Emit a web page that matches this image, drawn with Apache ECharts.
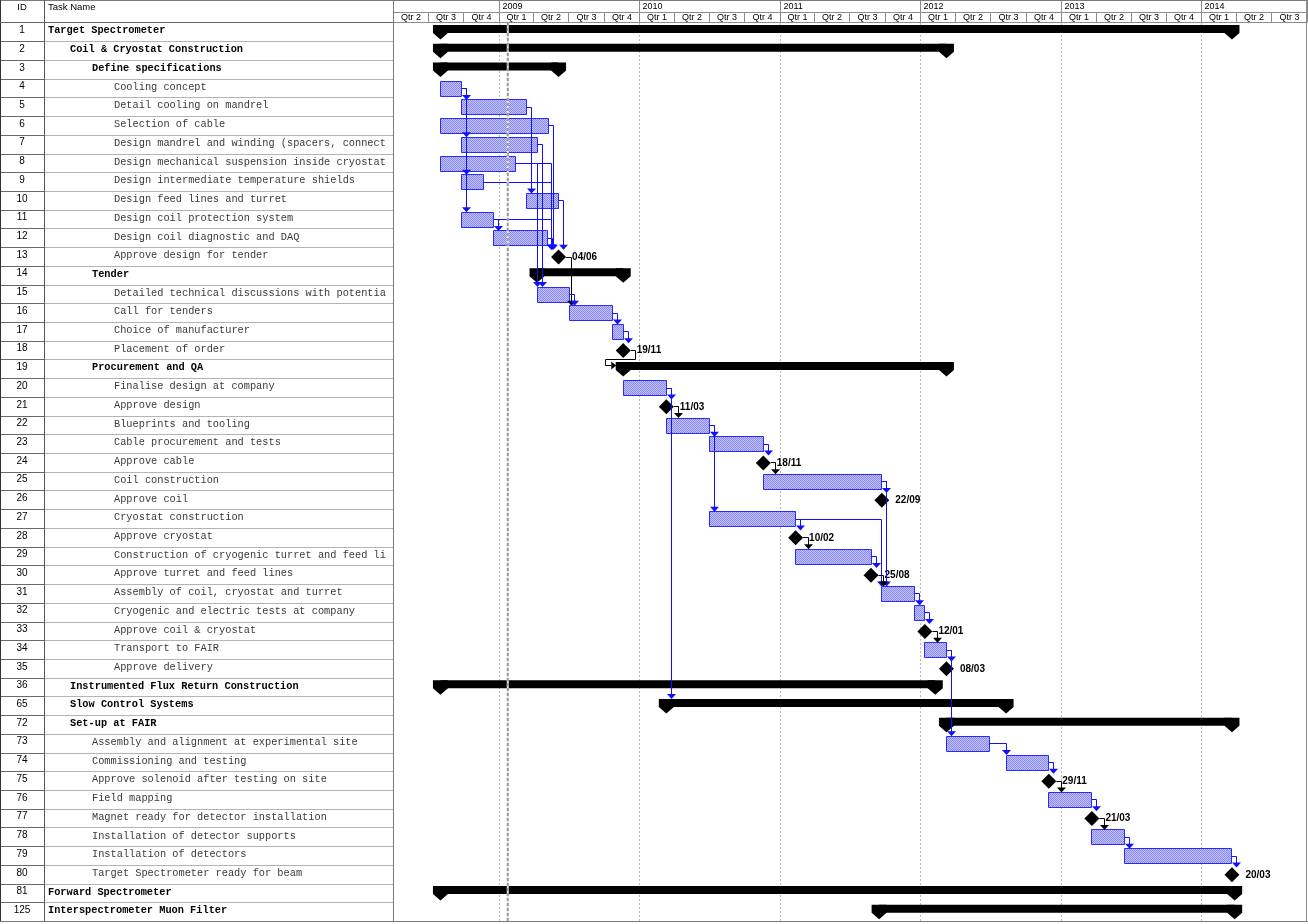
<!DOCTYPE html>
<html>
<head>
<meta charset="utf-8">
<title>Target Spectrometer schedule</title>
<script src="https://cdn.jsdelivr.net/npm/echarts@6/dist/echarts.min.js"></script>
<style>
  html, body { margin: 0; padding: 0; background: #fff; }
  #chart { width: 1308px; height: 924px; }
</style>
</head>
<body>
<div id="chart"></div>
<script>
// ---- data ----
var taskIds = ['1', '2', '3', '4', '5', '6', '7', '8', '9', '10', '11', '12', '13', '14', '15', '16',
    '17', '18', '19', '20', '21', '22', '23', '24', '25', '26', '27', '28', '29', '30', '31', '32',
    '33', '34', '35', '36', '65', '72', '73', '74', '75', '76', '77', '78', '79', '80', '81', '125'];

var taskNames = [
    'Target Spectrometer',
    'Coil & Cryostat Construction',
    'Define specifications',
    'Cooling concept',
    'Detail cooling on mandrel',
    'Selection of cable',
    'Design mandrel and winding (spacers, connectors)',
    'Design mechanical suspension inside cryostat',
    'Design intermediate temperature shields',
    'Design feed lines and turret',
    'Design coil protection system',
    'Design coil diagnostic and DAQ',
    'Approve design for tender',
    'Tender',
    'Detailed technical discussions with potential suppliers',
    'Call for tenders',
    'Choice of manufacturer',
    'Placement of order',
    'Procurement and QA',
    'Finalise design at company',
    'Approve design',
    'Blueprints and tooling',
    'Cable procurement and tests',
    'Approve cable',
    'Coil construction',
    'Approve coil',
    'Cryostat construction',
    'Approve cryostat',
    'Construction of cryogenic turret and feed lines',
    'Approve turret and feed lines',
    'Assembly of coil, cryostat and turret',
    'Cryogenic and electric tests at company',
    'Approve coil & cryostat',
    'Transport to FAIR',
    'Approve delivery',
    'Instrumented Flux Return Construction',
    'Slow Control Systems',
    'Set-up at FAIR',
    'Assembly and alignment at experimental site',
    'Commissioning and testing',
    'Approve solenoid after testing on site',
    'Field mapping',
    'Magnet ready for detector installation',
    'Installation of detector supports',
    'Installation of detectors',
    'Target Spectrometer ready for beam',
    'Forward Spectrometer',
    'Interspectrometer Muon Filter'
];

var taskLevels = [0, 1, 2, 3, 3, 3, 3, 3, 3, 3, 3, 3, 3, 2, 3, 3,
    3, 3, 2, 3, 3, 3, 3, 3, 3, 3, 3, 3, 3, 3, 3, 3,
    3, 3, 3, 1, 1, 1, 2, 2, 2, 2, 2, 2, 2, 2, 0, 0];

// sum = summary bar, task = normal bar, ms = milestone
var taskKinds = ['sum', 'sum', 'sum', 'task', 'task', 'task', 'task', 'task', 'task', 'task', 'task', 'task', 'ms', 'sum', 'task', 'task',
    'task', 'ms', 'sum', 'task', 'ms', 'task', 'task', 'ms', 'task', 'ms', 'task', 'ms', 'task', 'ms', 'task', 'task',
    'ms', 'task', 'ms', 'sum', 'sum', 'sum', 'task', 'task', 'ms', 'task', 'ms', 'task', 'task', 'ms', 'sum', 'sum'];

var taskStarts = ['2008-08-01', '2008-08-01', '2008-08-01', '2008-08-01', '2008-09-26', '2008-08-01', '2008-09-26', '2008-08-01',
    '2008-09-26', '2009-03-13', '2008-09-26', '2008-12-18', '2009-06-04', '2009-04-09', '2009-04-09', '2009-07-02',
    '2009-10-21', '2009-11-19', '2009-11-19', '2009-11-19', '2010-03-11', '2010-03-11', '2010-06-30', '2010-11-18',
    '2010-11-18', '2011-09-22', '2010-06-30', '2011-02-10', '2011-02-10', '2011-08-25', '2011-09-22', '2011-12-15',
    '2012-01-12', '2012-01-12', '2012-03-08', '2008-08-01', '2010-03-11', '2012-03-08', '2012-03-08', '2012-08-10',
    '2012-11-29', '2012-11-29', '2013-03-21', '2013-03-21', '2013-06-13', '2014-03-20', '2008-08-01', '2011-09-15'];

var taskEnds = ['2014-03-20', '2012-03-08', '2009-06-04', '2008-09-26', '2009-03-13', '2009-05-09', '2009-04-09', '2009-02-12',
    '2008-11-20', '2009-06-04', '2008-12-18', '2009-05-07', '2009-06-04', '2009-11-19', '2009-07-02', '2009-10-21',
    '2009-11-19', '2009-11-19', '2012-03-08', '2010-03-11', '2010-03-11', '2010-06-30', '2010-11-18', '2010-11-18',
    '2011-09-22', '2011-09-22', '2011-02-10', '2011-02-10', '2011-08-25', '2011-08-25', '2011-12-15', '2012-01-12',
    '2012-01-12', '2012-03-08', '2012-03-08', '2012-02-08', '2012-08-10', '2014-03-20', '2012-06-28', '2012-11-29',
    '2012-11-29', '2013-03-21', '2013-03-21', '2013-06-13', '2014-03-20', '2014-03-20', '2014-03-27', '2014-03-27'];

// finish-to-start links, by task ID
var links = [['4', '5'], ['4', '7'], ['4', '9'], ['4', '11'], ['5', '10'], ['11', '12'], ['6', '13'], ['8', '13'],
    ['9', '13'], ['11', '13'], ['12', '13'], ['10', '13'], ['7', '15'], ['8', '15'], ['13', '16'], ['15', '16'],
    ['16', '17'], ['17', '18'], ['18', '19'], ['20', '21'], ['20', '65'], ['21', '22'], ['22', '23'], ['22', '27'],
    ['23', '24'], ['24', '25'], ['25', '26'], ['25', '31'], ['27', '28'], ['27', '31'], ['28', '29'], ['29', '30'],
    ['30', '31'], ['31', '32'], ['32', '33'], ['33', '34'], ['34', '35'], ['34', '73'], ['73', '74'], ['74', '75'],
    ['75', '76'], ['76', '77'], ['77', '78'], ['78', '79'], ['79', '80']];

var headerYears = [2008, 2009, 2010, 2011, 2012, 2013, 2014];
var timelineStart = '2008-04-01';
var timelineEnd = '2014-10-01';
var statusDate = '2009-01-23';

// ---- helpers ----
function toTs(s) {
    var p = s.split('-');
    return Date.UTC(+p[0], +p[1] - 1, +p[2]);
}
function crisp(v) {
    return Math.round(v - 0.5) + 0.5;
}
function msLabel(i) {
    var p = taskStarts[i].split('-');
    return p[2] + '/' + p[1];
}

var axisMin = toTs(timelineStart);
var axisMax = toTs(timelineEnd);
var kindCode = { sum: 0, task: 1, ms: 2 };
var SANS = '"Liberation Sans", Arial, Helvetica, sans-serif';
var MONO = '"Liberation Mono", "Courier New", monospace';
var LINK_BLUE = '#1010ff';

var barData = taskIds.map(function (id, i) {
    return [toTs(taskStarts[i]), i, toTs(taskEnds[i]), kindCode[taskKinds[i]]];
});
var linkData = links.map(function (l) {
    return [axisMin, taskIds.indexOf(l[0]), taskIds.indexOf(l[1])];
});
var rowData = taskIds.map(function (id, i) {
    return [axisMin, i];
});

var yearCells = [], yearLabels = [];
headerYears.forEach(function (y) {
    var s = Date.UTC(y, 0, 1), e = Date.UTC(y + 1, 0, 1);
    yearCells.push([Math.max(s, axisMin), 0, Math.min(e, axisMax)]);
    yearLabels.push(s >= axisMin ? String(y) : '');
});
var quarterCells = [], quarterLabels = [];
headerYears.forEach(function (y) {
    for (var q = 1; q <= 4; q++) {
        var s = Date.UTC(y, (q - 1) * 3, 1), e = Date.UTC(y, q * 3, 1);
        if (s >= axisMin && s < axisMax) {
            quarterCells.push([s, 0, Math.min(e, axisMax)]);
            quarterLabels.push('Qtr ' + q);
        }
    }
});
var yearLines = headerYears.filter(function (y) {
    return Date.UTC(y, 0, 1) > axisMin;
}).map(function (y) {
    return [Date.UTC(y, 0, 1), 0];
});

// hatched fill for normal tasks
var pat = document.createElement('canvas');
pat.width = 2;
pat.height = 2;
var pc = pat.getContext('2d');
pc.fillStyle = '#c2c2fb';
pc.fillRect(0, 0, 2, 2);
pc.fillStyle = '#8a8af2';
pc.fillRect(0, 0, 1, 1);
pc.fillRect(1, 1, 1, 1);
var barPattern = { image: pat, repeat: 'repeat' };

// ---- render functions ----
function renderTask(params, api) {
    var row = api.value(1), kind = api.value(3);
    var a = api.coord([api.value(0), row]);
    var b = api.coord([api.value(2), row]);
    var h = api.size([0, 1])[1];
    var top = a[1] - h / 2;
    if (kind === 0) {
        var cap = function (cx) {
            return {
                type: 'polygon',
                shape: { points: [[cx - 7.5, top + 2], [cx + 7.5, top + 2], [cx + 7.5, top + 10], [cx, top + 16.5], [cx - 7.5, top + 10]] },
                style: { fill: '#000' }
            };
        };
        return {
            type: 'group',
            children: [
                { type: 'rect', shape: { x: a[0], y: top + 2, width: b[0] - a[0], height: 8 }, style: { fill: '#000' } },
                cap(a[0]), cap(b[0])
            ]
        };
    }
    if (kind === 2) {
        var cy = a[1];
        return {
            type: 'group',
            children: [
                { type: 'polygon', shape: { points: [[a[0], cy - 7.5], [a[0] + 7.5, cy], [a[0], cy + 7.5], [a[0] - 7.5, cy]] }, style: { fill: '#000' } },
                { type: 'text', x: a[0] + 13.5, y: cy, style: { text: msLabel(row), font: 'bold 10px ' + SANS, fill: '#000', verticalAlign: 'middle' } }
            ]
        };
    }
    var x0 = crisp(a[0]), x1 = crisp(b[0]);
    return {
        type: 'rect',
        shape: { x: x0, y: crisp(top + 2), width: x1 - x0, height: 15 },
        style: { fill: barPattern, stroke: '#2a2aff', lineWidth: 1 }
    };
}

function seg(xa, ya, xb, yb, color) {
    return { type: 'line', shape: { x1: xa, y1: ya, x2: xb, y2: yb }, style: { stroke: color, lineWidth: 1 } };
}

function renderLink(params, api) {
    var p = api.value(1), s = api.value(2);
    var h = api.size([0, 1])[1];
    var pe = api.coord([toTs(taskEnds[p]), p]);
    var ss = api.coord([toTs(taskStarts[s]), s]);
    var pk = taskKinds[p], sk = taskKinds[s];
    var x1 = pk === 'ms' ? pe[0] + 7.5 : pe[0];
    var y1 = crisp(pe[1]);
    var xs = sk === 'ms' ? ss[0] - 7 : ss[0];
    var sTop = ss[1] - h / 2;
    var vx = crisp(Math.max(x1 + 5, xs));
    var color = pk === 'ms' ? '#000' : LINK_BLUE;
    var children;
    if (sk === 'sum' && vx - xs > 8) {
        // successor summary starts left of the turn: loop back and point right
        var yb = crisp(sTop + 6), yt = crisp(sTop);
        var bx = crisp(xs - 17.5);
        children = [
            seg(x1, y1, vx, y1, color), seg(vx, y1, vx, yt, color), seg(vx, yt, bx, yt, color),
            seg(bx, yt, bx, yb, color), seg(bx, yb, xs - 12, yb, color),
            { type: 'polygon', shape: { points: [[xs - 12, yb - 4], [xs - 7, yb], [xs - 12, yb + 4]] }, style: { fill: color } }
        ];
    } else {
        var tip = sTop + 2;
        children = [
            seg(x1, y1, vx, y1, color), seg(vx, y1, vx, tip - 4, color),
            { type: 'polygon', shape: { points: [[vx - 4.5, tip - 5], [vx + 4.5, tip - 5], [vx, tip]] }, style: { fill: color } }
        ];
    }
    return { type: 'group', children: children };
}

function renderRow(params, api) {
    var i = api.value(1);
    var c = api.coord([axisMin, i]);
    var h = api.size([0, 1])[1];
    var bottom = crisp(c[1] + h / 2);
    var indent = 48 + taskLevels[i] * 22;
    var isSum = taskKinds[i] === 'sum';
    return {
        type: 'group',
        children: [
            { type: 'line', shape: { x1: 0, y1: bottom, x2: 44, y2: bottom }, style: { stroke: '#6a6a6a', lineWidth: 1 } },
            { type: 'line', shape: { x1: 45, y1: bottom, x2: 393, y2: bottom }, style: { stroke: '#b4b4b4', lineWidth: 1 } },
            { type: 'text', x: 22, y: c[1] - 2, style: { text: taskIds[i], font: '10px ' + SANS, fill: '#000', align: 'center', verticalAlign: 'middle' } },
            {
                type: 'text', x: indent, y: c[1] - 1.5,
                style: {
                    text: taskNames[i],
                    font: (isSum ? 'bold ' : '') + '10.3px ' + MONO,
                    fill: isSum ? '#000' : '#3a3a3a', verticalAlign: 'middle',
                    width: 392 - indent, overflow: 'truncate', ellipsis: ''
                }
            }
        ]
    };
}

function renderYear(params, api) {
    var a = api.coord([api.value(0), 0]), b = api.coord([api.value(2), 0]);
    var x0 = crisp(a[0]), x1 = crisp(b[0]);
    return {
        type: 'group',
        children: [
            { type: 'rect', shape: { x: x0, y: 0.5, width: x1 - x0, height: 12 }, style: { fill: '#fff', stroke: '#8c8c8c', lineWidth: 1 } },
            { type: 'text', x: x0 + 3, y: 7, style: { text: yearLabels[params.dataIndex], font: '9px ' + SANS, fill: '#000', verticalAlign: 'middle' } }
        ]
    };
}

function renderQuarter(params, api) {
    var a = api.coord([api.value(0), 0]), b = api.coord([api.value(2), 0]);
    var x0 = crisp(a[0]), x1 = crisp(b[0]);
    return {
        type: 'group',
        children: [
            { type: 'rect', shape: { x: x0, y: 12.5, width: x1 - x0, height: 10 }, style: { fill: '#fff', stroke: '#8c8c8c', lineWidth: 1 } },
            { type: 'text', x: (x0 + x1) / 2, y: 18, style: { text: quarterLabels[params.dataIndex], font: '9px ' + SANS, fill: '#000', align: 'center', verticalAlign: 'middle' } }
        ]
    };
}

function renderYearLine(params, api) {
    var x = crisp(api.coord([api.value(0), 0])[0]);
    var cs = params.coordSys;
    return {
        type: 'line',
        shape: { x1: x, y1: cs.y, x2: x, y2: cs.y + cs.height },
        style: { stroke: '#b8b8b8', lineWidth: 1, lineDash: [2, 2] }
    };
}

function renderStatus(params, api) {
    var x = api.coord([api.value(0), 0])[0];
    var cs = params.coordSys;
    return {
        type: 'group',
        children: [
            { type: 'line', shape: { x1: x, y1: cs.y, x2: x, y2: cs.y + cs.height }, style: { stroke: '#e6e6e6', lineWidth: 2 } },
            { type: 'line', shape: { x1: x, y1: cs.y, x2: x, y2: cs.y + cs.height }, style: { stroke: '#9a9a9a', lineWidth: 2, lineDash: [3, 2] } }
        ]
    };
}

// ---- chart ----
var chart = echarts.init(document.getElementById('chart'));
var rowH = 18.72;
var option = {
    animation: false,
    backgroundColor: '#fff',
    grid: {
        left: 393.5,
        right: 1,
        top: 23,
        bottom: 924 - 23 - rowH * taskIds.length
    },
    xAxis: {
        type: 'time',
        min: axisMin,
        max: axisMax,
        show: false
    },
    yAxis: {
        type: 'category',
        data: taskIds,
        inverse: true,
        show: false
    },
    graphic: [
        { type: 'line', shape: { x1: 0, y1: 0.5, x2: 1308, y2: 0.5 }, style: { stroke: '#7a7a7a', lineWidth: 1 }, z: 100 },
        { type: 'line', shape: { x1: 0.5, y1: 0, x2: 0.5, y2: 922 }, style: { stroke: '#333', lineWidth: 1 }, z: 100 },
        { type: 'line', shape: { x1: 44.5, y1: 0, x2: 44.5, y2: 922 }, style: { stroke: '#555', lineWidth: 1 }, z: 100 },
        { type: 'line', shape: { x1: 393.5, y1: 0, x2: 393.5, y2: 922 }, style: { stroke: '#7a7a7a', lineWidth: 1 }, z: 100 },
        { type: 'line', shape: { x1: 0, y1: 22.5, x2: 393, y2: 22.5 }, style: { stroke: '#666', lineWidth: 1 }, z: 100 },
        { type: 'line', shape: { x1: 0, y1: 921.5, x2: 1308, y2: 921.5 }, style: { stroke: '#7a7a7a', lineWidth: 1 }, z: 100 },
        { type: 'line', shape: { x1: 1306.5, y1: 0, x2: 1306.5, y2: 922 }, style: { stroke: '#8c8c8c', lineWidth: 1 }, z: 100 },
        { type: 'text', x: 22, y: 7, style: { text: 'ID', font: '9.5px ' + SANS, fill: '#000', align: 'center', verticalAlign: 'middle' }, z: 100 },
        { type: 'text', x: 48, y: 7, style: { text: 'Task Name', font: '9.5px ' + SANS, fill: '#000', verticalAlign: 'middle' }, z: 100 }
    ],
    series: [
        { type: 'custom', name: 'years', renderItem: renderYearLine, data: yearLines, encode: { x: 0, y: 1 }, z: 1, silent: true },
        { type: 'custom', name: 'tasks', renderItem: renderTask, data: barData, encode: { x: [0, 2], y: 1 }, z: 2, silent: true },
        { type: 'custom', name: 'links', renderItem: renderLink, data: linkData, encode: { x: 0, y: 1 }, z: 3, silent: true },
        { type: 'custom', name: 'status', renderItem: renderStatus, data: [[toTs(statusDate), 0]], encode: { x: 0, y: 1 }, z: 4, silent: true },
        { type: 'custom', name: 'table', renderItem: renderRow, data: rowData, encode: { x: 0, y: 1 }, z: 5, silent: true },
        { type: 'custom', name: 'yearHead', renderItem: renderYear, data: yearCells, encode: { x: [0, 2], y: 1 }, z: 6, silent: true },
        { type: 'custom', name: 'quarterHead', renderItem: renderQuarter, data: quarterCells, encode: { x: [0, 2], y: 1 }, z: 6, silent: true }
    ]
};
chart.setOption(option);
</script>
</body>
</html>
